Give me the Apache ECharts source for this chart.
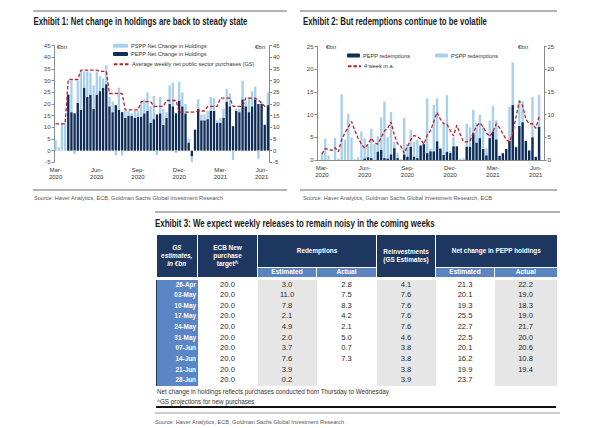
<!DOCTYPE html>
<html>
<head>
<meta charset="utf-8">
<script src="https://cdn.jsdelivr.net/npm/echarts/dist/echarts.min.js"></script>
<style>
  html, body { margin: 0; padding: 0; background: #fff; }
  #page { position: relative; width: 600px; height: 428px; overflow: hidden; background: #fff; }
  #chart { position: absolute; left: 0; top: 0; width: 600px; height: 428px; }
  #tblwrap { position: absolute; left: 156px; top: 234.5px; width: 400px; }
  #tbl { border-collapse: collapse; table-layout: fixed; width: 400px; font-family: 'Liberation Sans', Arial, sans-serif; }
  #tbl th { background: #1d3761; color: #fff; font-weight: bold; font-size: 6.4px; line-height: 7.6px; padding: 0; border-right: 1.5px solid #fff; text-align: center; vertical-align: middle; }
  #tbl th:last-child { border-right: none; }
  #tbl th.it { font-style: italic; }
  #tbl tr.sub th { background: #5b84c3; height: 9.5px; border-top: 1.5px solid #fff; font-size: 6.6px; }
  #tbl td { height: 10.63px; padding: 0; font-size: 7.6px; line-height: 10.63px; text-align: center; color: #2a2a2a; white-space: nowrap; }
  #tbl td.d { background: #5a86c6; color: #fff; font-weight: bold; text-align: right; font-size: 6.4px; padding-right: 1.5px; border-left: 1.5px solid #1d3761; }
  #tbl td.g { background: #e6e6e6; }
  #tbl tr.spacer td { height: 2.5px; line-height: 2.5px; font-size: 1px; }
  .note { position: absolute; left: 157px; font-family: 'Liberation Sans', Arial, sans-serif; font-size: 6.3px; color: #333; white-space: nowrap; }
</style>
</head>
<body>
<div id="page">
  <div id="chart"></div>
  <div id="tblwrap"><table id="tbl"></table></div>
  <div class="note" style="top:388px">Net change in holdings reflects purchases conducted from Thursday to Wednesday</div>
  <div class="note" style="top:398px">^GS projections for new purchases</div>
</div>
<script>
// ---------------- DATA ----------------
// Exhibit 1: weekly, first week = 2020-03-04
const ex1Start = '2020-03-04';
const ex1Weeks = 68;
const peppNet = [0, 0, 0, 0, 24, 16.5, 16, 20.5, 17.5, 27, 23, 24, 18, 24, 25.5, 27, 28.5, 19, 16.5, 19.5,
  17.5, 16.5, 14, 15, 15, 14, 14.5, 14.5, 16, 17, 12, 13.5, 15.5, 16, 11, 14, 20, 19, 16, 21.5,
  19, 16, 3.5, -2.5, 9, 18, 13, 13, 13.5, 17, 17, 12, 12, 14, 21, 19, 10.5, 17, 16.5, 22,
  19, 16.5, 19, 22, 20, 20, 11, 19.5];
const psppNet = [4.5, 1.5, 12, 12, 0, 13.5, -1.5, 9.5, 16.5, 7, 11, 9.5, 10, 10, 6.5, 4, 8, 4, 4.5, -2,
  9.5, -2, 3, 2, 1, 3, 2.5, 6.5, 6, 8, 7, 10, -2, 7, 7, 2.5, 8, 10, -1, 8,
  6, 4, 1.5, -2.5, 0, 4, 2.5, 2.5, 3.5, 6, 5.5, 1, 2, 4, 5.5, 5.5, -4, 1, 1.5, 8,
  2, 6.5, 6.5, 5.5, -3.5, 1, 0.5, 5.5];
const avgWeekly = [11.5, 11.5, 11.5, 11.5, 30.5, 30.5, 30.5, 30.5, 34.5, 34.5, 34.5, 34.5, 34.5, 34.5, 34, 34, 34, 24.5, 24.5, 24.5,
  24.5, 24.5, 17.5, 17.5, 17.5, 17.5, 17.5, 21, 21, 21, 21, 19, 19, 19, 19, 21.5, 21.5, 21.5, 21.5, 16.5,
  16.5, 16.5, 16.5, 16.5, 16.5, 17, 17, 17, 19, 19, 19, 19, 22.5, 22.5, 22.5, 22.5, 19, 19, 19, 19,
  22.5, 22.5, 22.5, 22.5, 21.5, 20.5, 19, 19];

// Exhibit 2: weekly, data from 2020-03-04 (one empty slot either side)
const ex2Start = '2020-02-26';
const ex2Weeks = 69;
const psppRed = [1.3, 4.7, 1.0, 0, 4.9, 0.3, 14.5, 4.5, 10.2, 5,
  0.2, 0.6, 6.3, 4.8, 3.2, 6.9, 3.5, 5.2, 9.4, 12.9,
  5, 10.6, 4, 1.5, 0.2, 9.3, 3.5, 6.7, 4, 4.5,
  3.2, 3.5, 13.6, 2.5, 12.2, 13.6, 2.5, 7.8, 14.3, 2,
  5, 3, 0.3, 0.4, 8, 7.2, 11.1, 8.2, 10, 7.5,
  2.6, 8.7, 11.9, 8.8, 1, 1.5, 2.4, 11.7, 21.5, 3,
  13.3, 13, 4.2, 2.1, 13.9, 0.7, 14.4];
const peppRed = [0, 0, 0, 0, 0, 0, 0, 0, 0, 0,
  0, 0, 0, 0.3, 0.6, 0.4, 0, 1.8, 2.2, 0.4,
  0.3, 1.2, 2.6, 0.4, 0, 1.2, 0.7, 2.9, 0.7, 0.4,
  3.2, 3.5, 1.5, 1.9, 1.9, 4.1, 2.5, 1.1, 1.8, 1.5,
  3, 3, 0, 0, 2.9, 2.9, 5.9, 3.8, 4.8, 2.4,
  1.0, 4.8, 6.3, 4.5, 0.9, 1.5, 2.4, 4.2, 12.1, 2.8,
  7.5, 8.3, 4.2, 2.1, 5, 0.7, 7.3];
const ma4w = [1.3, 2.5, 2.4, 2.1, 2.7, 1.8, 4.5, 6, 7.2, 8.5,
  6.5, 4.8, 3.5, 2.6, 3.5, 4.8, 3.8, 3.5, 5, 6.4,
  7, 8.4, 5.5, 3.6, 3, 1.5, 3, 4.5, 5.4, 5.2,
  4.6, 3.5, 5.5, 6.5, 8.5, 10.5, 9, 8, 7.9, 6.5,
  5.3, 7.7, 5.8, 4, 4, 4.2, 6, 7.5, 8.2, 7.3,
  6, 5.2, 6.2, 8, 7.1, 5.8, 4.5, 4, 6, 9.5,
  13, 12, 9, 8, 8, 7, 9.5];

// Axis tick labels
const monthNames = ['Jan','Feb','Mar','Apr','May','Jun','Jul','Aug','Sep','Oct','Nov','Dec'];
const tickMonths = [2, 5, 8, 11]; // Mar, Jun, Sep, Dec
const ex1YTicks = { min: -5, max: 45, interval: 5 };
const ex2YTicks = { min: 0, max: 25, interval: 5 };

// Titles
const titleTexts = [
  'Exhibit 1: Net change in holdings are back to steady state',
  'Exhibit 2: But redemptions continue to be volatile',
  'Exhibit 3: We expect weekly releases to remain noisy in the coming weeks'
];

// Exhibit 3 table
const tblDates = ['26-Apr','03-May','10-May','17-May','24-May','31-May','07-Jun','14-Jun','21-Jun','28-Jun'];
const tblTarget = ['20.0','20.0','20.0','20.0','20.0','20.0','20.0','20.0','20.0','20.0'];
const tblRedEst = ['3.0','11.0','7.8','2.1','4.9','2.0','3.7','7.6','3.9','0.2'];
const tblRedAct = ['2.8','7.5','8.3','4.2','2.1','5.0','0.7','7.3','',''];
const tblReinv = ['4.1','7.6','7.6','7.6','7.6','4.6','3.8','3.8','3.8','3.9'];
const tblNetEst = ['21.3','20.1','19.3','25.5','22.7','22.5','20.1','16.2','19.9','23.7'];
const tblNetAct = ['22.2','19.0','18.3','19.0','21.7','20.0','20.6','10.8','19.4',''];

// ---------------- BUILD ----------------
function weekly(start, n) {
  const out = []; const d0 = new Date(start + 'T00:00:00Z');
  for (let i = 0; i < n; i++) { const d = new Date(d0.getTime() + i * 7 * 86400000); out.push(d.toISOString().slice(0, 10)); }
  return out;
}
const cats1 = weekly(ex1Start, ex1Weeks);
const cats2 = weekly(ex2Start, ex2Weeks);
const pad = a => [null].concat(a, [null]);

const isTick = (i, v) => { const d = new Date(v + 'T00:00:00Z'); return tickMonths.indexOf(d.getUTCMonth()) >= 0 && d.getUTCDate() <= 7; };
const fmtTick = v => { const d = new Date(v + 'T00:00:00Z'); return monthNames[d.getUTCMonth()] + '-\n' + d.getUTCFullYear(); };

const FONT = "'Liberation Sans', Arial, sans-serif";
const LIGHT = '#a9cfea', DARK = '#0f2d57', RED = '#b5232b', AX = '#8a8a8a';
const DASH_ICON = 'path://M0,0h4v1.4H0z M5.5,0h4v1.4h-4z M11,0h4v1.4h-4z';

function yAx(grid, pos, t) {
  return { type: 'value', gridIndex: grid, position: pos, min: t.min, max: t.max, interval: t.interval,
    axisLine: { show: true, lineStyle: { color: AX, width: 1 } },
    axisTick: { show: true, length: 2.5, lineStyle: { color: AX } },
    splitLine: { show: false },
    axisLabel: { fontSize: 6, color: '#444', margin: 3.5, fontFamily: FONT } };
}
function xAx(grid, data, line) {
  return { type: 'category', gridIndex: grid, data: data, boundaryGap: true,
    axisLine: { show: line, lineStyle: { color: AX } }, axisTick: { show: false },
    axisLabel: { interval: isTick, formatter: fmtTick, fontSize: 6, lineHeight: 7.2, color: '#333', margin: 4, fontFamily: FONT } };
}
function leg(name, left, top, w, h) {
  return { data: [name], left: left, top: top, padding: 0, itemWidth: w, itemHeight: h, itemGap: 0,
    textStyle: { fontSize: 5.6, color: '#333', fontFamily: FONT, padding: [0, 0, 0, -2] }, selectedMode: false };
}
function txt(t, x, y, size, color) {
  return { type: 'text', x: x, y: y, silent: true,
    style: { text: t, fontSize: size, fill: color || '#333', fontFamily: FONT, verticalAlign: 'middle' } };
}
// condensed bold title: scale horizontally to the width it occupies in the original
const measureCtx = document.createElement('canvas').getContext('2d');
function title(t, x, y, w) {
  measureCtx.font = 'bold 10.5px ' + FONT;
  const nat = measureCtx.measureText(t).width || w;
  return { type: 'text', x: x, y: y, scaleX: w / nat, silent: true,
    style: { text: t, fontSize: 10.5, fontWeight: 'bold', fill: '#1a1a1a', fontFamily: FONT, verticalAlign: 'middle' } };
}
function rule(x1, y, x2, w, c) {
  return { type: 'line', silent: true, shape: { x1: x1, y1: y, x2: x2, y2: y }, style: { stroke: c || '#9a9a9a', lineWidth: w || 1.3 } };
}

const chart = echarts.init(document.getElementById('chart'), null, { renderer: 'svg', width: 600, height: 428 });
chart.setOption({
  animation: false,
  textStyle: { fontFamily: FONT },
  title: [
    { text: 'Source: Haver Analytics, ECB, Goldman Sachs Global Investment Research', left: 34, top: 194.5, padding: 0,
      textStyle: { fontSize: 5.6, color: '#555', fontWeight: 'normal', fontFamily: FONT } },
    { text: 'Source: Haver Analytics, Goldman Sachs Global Investment Research, ECB', left: 303, top: 194.5, padding: 0,
      textStyle: { fontSize: 5.6, color: '#555', fontWeight: 'normal', fontFamily: FONT } },
    { text: 'Source: Haver Analytics, ECB, Goldman Sachs Global Investment Research', left: 155, top: 418.5, padding: 0,
      textStyle: { fontSize: 5.6, color: '#555', fontWeight: 'normal', fontFamily: FONT } }
  ],
  grid: [
    { left: 54, top: 45.7, width: 215.5, height: 116.6 },
    { left: 317, top: 46.7, width: 227, height: 113.3 }
  ],
  xAxis: [ xAx(0, cats1, false), xAx(1, cats2, true) ],
  yAxis: [ yAx(0, 'left', ex1YTicks), yAx(0, 'right', ex1YTicks), yAx(1, 'left', ex2YTicks), yAx(1, 'right', ex2YTicks) ],
  legend: [
    leg('PSPP Net Change in Holdings', 113, 42.8, 15, 4),
    leg('PEPP Net Change in Holdings', 113, 51.1, 15, 4),
    leg('Average weekly net public sector purchases (GS)', 113, 61.3, 15, 1.4),
    leg('PEPP redemptions', 347, 52.6, 13, 4),
    leg('PSPP redemptions', 435, 52.6, 13, 4),
    leg('4 week m.a.', 347, 63.3, 13, 1.4)
  ],
  series: [
    { name: 'PEPP Net Change in Holdings', type: 'bar', xAxisIndex: 0, yAxisIndex: 0, stack: 'net', data: peppNet,
      barWidth: '74%', itemStyle: { color: DARK }, legendIcon: 'rect' },
    { name: 'PSPP Net Change in Holdings', type: 'bar', xAxisIndex: 0, yAxisIndex: 0, stack: 'net', data: psppNet,
      barWidth: '74%', itemStyle: { color: LIGHT }, legendIcon: 'rect' },
    { name: 'Average weekly net public sector purchases (GS)', type: 'line', xAxisIndex: 0, yAxisIndex: 0, data: avgWeekly,
      symbol: 'none', lineStyle: { color: RED, width: 1.3, type: [3.5, 2] }, itemStyle: { color: RED }, legendIcon: DASH_ICON, z: 5 },
    { name: 'PSPP redemptions', type: 'bar', xAxisIndex: 1, yAxisIndex: 2, data: pad(psppRed),
      barWidth: '72%', barGap: '-100%', itemStyle: { color: LIGHT }, legendIcon: 'rect' },
    { name: 'PEPP redemptions', type: 'bar', xAxisIndex: 1, yAxisIndex: 2, data: pad(peppRed),
      barWidth: '72%', barGap: '-100%', itemStyle: { color: DARK }, legendIcon: 'rect' },
    { name: '4 week m.a.', type: 'line', xAxisIndex: 1, yAxisIndex: 2, data: pad(ma4w),
      symbol: 'none', lineStyle: { color: RED, width: 1.3, type: [3.5, 2] }, itemStyle: { color: RED }, legendIcon: DASH_ICON, z: 5 }
  ],
  graphic: [
    rule(33, 11, 287), rule(300, 11, 557),
    rule(33, 190, 287), rule(300, 190, 557),
    rule(155, 212, 560),
    rule(156, 407, 556, 2.2, '#111'),
    rule(155, 413, 560, 1, '#9a9a9a'),
    title(titleTexts[0], 33.5, 22, 214),
    title(titleTexts[1], 303, 22, 184),
    title(titleTexts[2], 155, 224, 280),
    txt('€bn', 57, 47, 6, '#333'), txt('€bn', 255, 47, 6, '#333'),
    txt('€bn', 326, 47, 6, '#333'), txt('€bn', 518, 47, 6, '#333')
  ]
});

// table
(function () {
  let h = '<colgroup><col style="width:41px"><col style="width:60px"><col style="width:59px"><col style="width:60px"><col style="width:59px"><col style="width:59px"><col style="width:62px"></colgroup>';
  h += '<tr style="height:32.5px"><th class="it" rowspan="2">GS<br>estimates,<br>in €bn</th><th rowspan="2">ECB New<br>purchase<br>target^</th>' +
       '<th colspan="2">Redemptions</th><th rowspan="2">Reinvestments<br>(GS Estimates)</th><th colspan="2">Net change in PEPP holdings</th></tr>';
  h += '<tr class="sub"><th>Estimated</th><th>Actual</th><th>Estimated</th><th>Actual</th></tr>';
  h += '<tr class="spacer"><td colspan="7"></td></tr>';
  for (let i = 0; i < tblDates.length; i++) {
    h += '<tr><td class="d">' + tblDates[i] + '</td><td>' + tblTarget[i] + '</td><td class="g">' + tblRedEst[i] +
         '</td><td>' + tblRedAct[i] + '</td><td class="g">' + tblReinv[i] + '</td><td>' + tblNetEst[i] +
         '</td><td class="g">' + tblNetAct[i] + '</td></tr>';
  }
  document.getElementById('tbl').innerHTML = h;
})();
</script>
</body>
</html>
